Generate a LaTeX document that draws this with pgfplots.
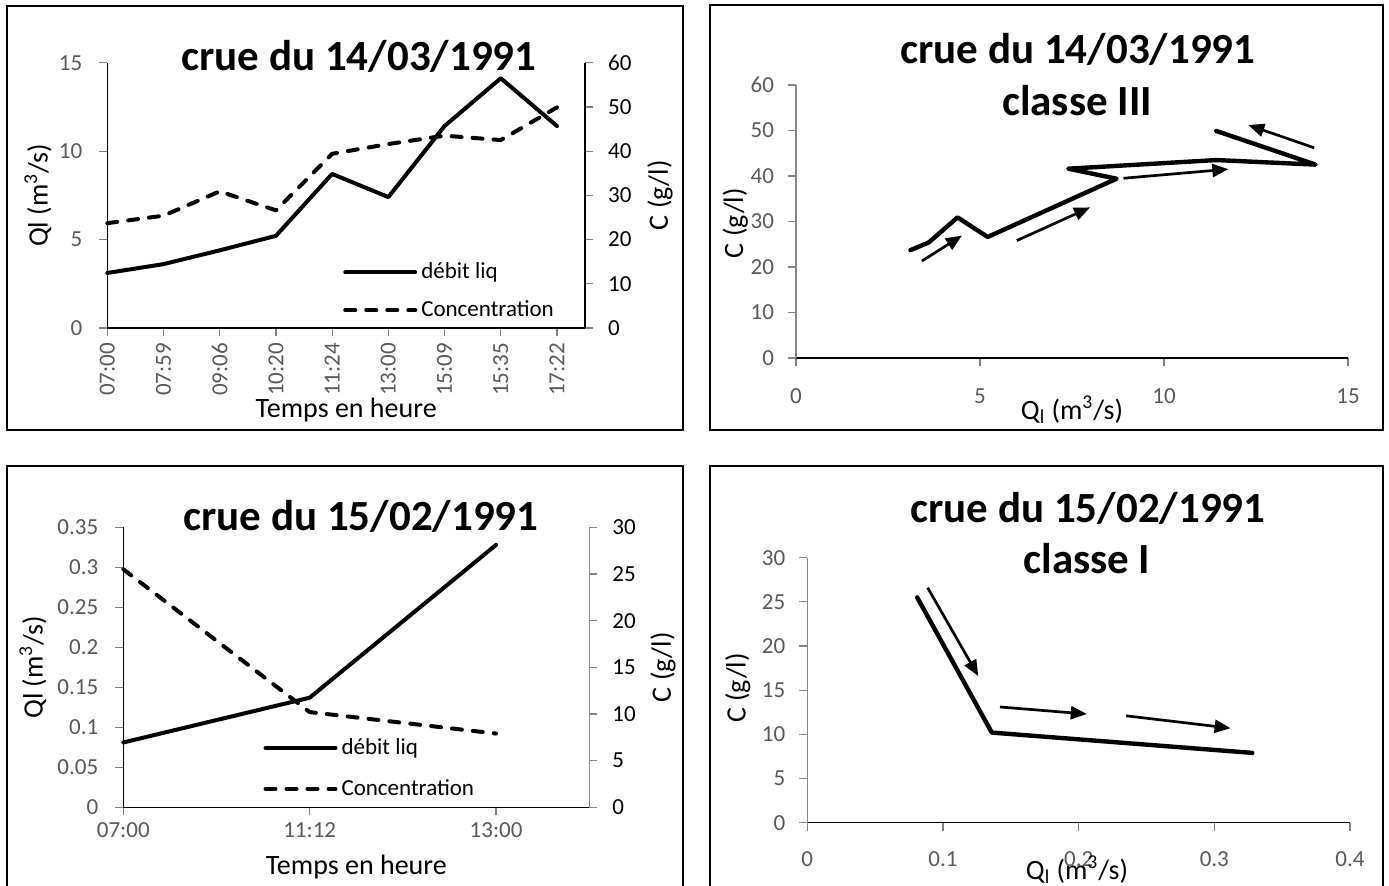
\documentclass[border=0pt]{standalone}
\usepackage{fontspec}
\setmainfont{Carlito}
\usepackage{pgfplots}
\pgfplotsset{compat=1.18}
\usetikzlibrary{arrows.meta}
\definecolor{tickgray}{HTML}{595959}
\definecolor{axgray}{HTML}{868686}

\pgfplotsset{
  base/.style={
    scale only axis, clip=false,
    /pgf/number format/assume math mode=true,
    tick label style={font=\fontsize{11.5}{13}\selectfont},
    label style={font=\fontsize{14}{16}\selectfont},
    tick align=outside, major tick length=4pt,
    axis line style={line width=0.6pt,-},
    every tick/.append style={line width=0.6pt},
  },
  qline/.style={line width=2pt, black, line join=round, line cap=round},
  cline/.style={line width=2pt, black, line join=round, line cap=round, dash pattern=on 5pt off 5.5pt},
  arr/.style={line width=1.35pt, black, -{Triangle[length=8pt,width=6.5pt]}},
  mylegend/.style={
    legend style={draw=none, fill=none, inner sep=0pt, row sep=5.5pt,
      font=\fontsize{11.5}{13}\selectfont, legend cell align=left},
    legend image code/.code={\draw[##1] (0pt,0pt) -- (35pt,0pt);},
  },
}

\begin{document}
\begin{tikzpicture}
\useasboundingbox (0,0) rectangle (694.5pt,443pt);

% ---------------- Panel 1 ----------------
\begin{axis}[base, at={(53.65pt,279pt)}, anchor=south west,
  width=238.9pt, height=132.65pt,
  xmin=0, xmax=8.5, ymin=0, ymax=15,
  axis x line*=bottom, axis y line*=left,
  xtick={0,...,8},
  xticklabels={07:00,07:59,09:06,10:20,11:24,13:00,15:09,15:35,17:22},
  xticklabel style={rotate=90, anchor=east, text=tickgray},
  ytick={0,5,10,15}, yticklabel style={text=tickgray, xshift=-5pt},
  xlabel={Temps en heure}, ylabel={Ql (m\textsuperscript{3}/s)},
  xlabel style={at={(axis description cs:0.5,-0.309)}, anchor=center},
  ylabel style={at={(axis description cs:-0.145,0.5)}, anchor=center},
]
\addplot[qline] coordinates {(0,3.11) (1,3.61) (2,4.39) (3,5.21) (4,8.71) (5,7.40) (6,11.42) (7,14.12) (8,11.42)};
\end{axis}
\begin{axis}[base, mylegend, at={(53.65pt,279pt)}, anchor=south west,
  width=238.9pt, height=132.65pt,
  xmin=0, xmax=8.5, ymin=0, ymax=60,
  axis y line*=right, hide x axis,
  ytick={0,10,...,60}, yticklabel style={text=black, xshift=4pt},
  ylabel={C (g/l)},
  ylabel style={at={(axis description cs:1.157,0.5)}, anchor=center},
  legend style={at={(axis description cs:0.493,0.262)}, anchor=north west},
]
\addlegendimage{qline}
\addlegendentry{débit liq}
\addplot[cline] coordinates {(0,23.7) (1,25.4) (2,30.9) (3,26.6) (4,39.4) (5,41.6) (6,43.5) (7,42.5) (8,49.9)};
\addlegendentry{Concentration}
\end{axis}

% ---------------- Panel 3 ----------------
\begin{axis}[base, at={(61.65pt,39.35pt)}, anchor=south west,
  width=233pt, height=140pt,
  xmin=0, xmax=2.5, ymin=0, ymax=0.35,
  axis x line*=bottom, axis y line*=left,
  xtick={0,1,2}, xticklabels={07:00,11:12,13:00},
  xticklabel style={text=tickgray},
  ytick={0,0.05,0.1,0.15,0.2,0.25,0.3,0.35},
  yticklabels={0,0.05,0.1,0.15,0.2,0.25,0.3,0.35},
  yticklabel style={text=tickgray, xshift=-5pt},
  xlabel={Temps en heure}, ylabel={Ql (m\textsuperscript{3}/s)},
  xlabel style={at={(axis description cs:0.5,-0.213)}, anchor=center},
  ylabel style={at={(axis description cs:-0.194,0.5)}, anchor=center},
]
\addplot[qline] coordinates {(0,0.081) (1,0.137) (2,0.328)};
\end{axis}
\begin{axis}[base, mylegend, at={(61.65pt,39.35pt)}, anchor=south west,
  width=233pt, height=140pt,
  xmin=0, xmax=2.5, ymin=0, ymax=30,
  axis y line*=right, hide x axis,
  axis line style={axgray}, every tick/.append style={axgray},
  ytick={0,5,...,30}, yticklabel style={text=black, xshift=4pt},
  ylabel={C (g/l)},
  ylabel style={at={(axis description cs:1.158,0.5)}, anchor=center},
  legend style={at={(axis description cs:0.30,0.262)}, anchor=north west, row sep=7pt},
]
\addlegendimage{qline}
\addlegendentry{débit liq}
\addplot[cline] coordinates {(0,25.5) (1,10.2) (2,7.9)};
\addlegendentry{Concentration}
\end{axis}

% ---------------- Panel 2 ----------------
\begin{axis}[base, at={(398pt,264pt)}, anchor=south west,
  width=276pt, height=136.5pt,
  xmin=0, xmax=15, ymin=0, ymax=60,
  axis x line*=bottom, axis y line*=left,
  y axis line style={axgray}, ytick style={axgray},
  xtick={0,5,10,15}, ytick={0,10,...,60},
  tick label style={text=tickgray},
  xticklabel style={yshift=-8pt},
  yticklabel style={xshift=-3.5pt},
  xlabel={Q\textsubscript{l} (m\textsuperscript{3}/s)}, ylabel={C (g/l)},
  xlabel style={at={(axis description cs:0.5,-0.19)}, anchor=center},
  ylabel style={at={(axis description cs:-0.11,0.494)}, anchor=center},
]
\addplot[qline, line width=2.2pt] coordinates {(3.11,23.7) (3.61,25.4) (4.39,30.9) (5.21,26.6) (8.71,39.4) (7.40,41.6) (11.42,43.5) (14.12,42.5) (11.42,49.9)};
\addplot[arr] coordinates {(3.42,21.3) (4.51,26.9)};
\addplot[arr] coordinates {(6.0,25.8) (7.99,33.1)};
\addplot[arr] coordinates {(8.9,39.5) (11.75,41.5)};
\addplot[arr] coordinates {(14.08,46.2) (12.29,51.2)};
\end{axis}

% ---------------- Panel 4 ----------------
\begin{axis}[base, at={(403.65pt,31.65pt)}, anchor=south west,
  width=271.35pt, height=132.5pt,
  xmin=0, xmax=0.4, ymin=0, ymax=30,
  axis x line*=bottom, axis y line*=left,
  y axis line style={axgray}, ytick style={axgray},
  xtick={0,0.1,0.2,0.3,0.4}, xticklabels={0,0.1,0.2,0.3,0.4},
  ytick={0,5,...,30},
  tick label style={text=tickgray},
  xticklabel style={yshift=-7pt},
  yticklabel style={xshift=-3.5pt},
  xlabel={Q\textsubscript{l} (m\textsuperscript{3}/s)}, ylabel={C (g/l)},
  xlabel style={at={(axis description cs:0.497,-0.178)}, anchor=center},
  ylabel style={at={(axis description cs:-0.128,0.508)}, anchor=center},
]
\addplot[qline, line width=2.2pt] coordinates {(0.081,25.5) (0.136,10.2) (0.328,7.9)};
\addplot[arr] coordinates {(0.0887,26.6) (0.126,16.6)};
\addplot[arr] coordinates {(0.142,13.1) (0.206,12.3)};
\addplot[arr] coordinates {(0.235,12.1) (0.312,10.7)};
\end{axis}

% ---------------- Titles ----------------
\tikzset{ttl/.style={anchor=base, inner sep=0pt, font={\fontsize{21.5}{26}\selectfont\bfseries}}}
\node[ttl] at (179.5pt,407.5pt) {crue du 14/03/1991};
\node[ttl] at (180.5pt,177.5pt) {crue du 15/02/1991};
\node[ttl] at (539pt,411pt) {crue du 14/03/1991};
\node[ttl] at (538.5pt,385pt) {classe III};
\node[ttl] at (544pt,181.5pt) {crue du 15/02/1991};
\node[ttl] at (543.5pt,156pt) {classe I};

% ---------------- Frames ----------------
\draw[line width=1.3pt] (3.5pt,440pt) rectangle (341.5pt,228pt);
\draw[line width=1.3pt] (355pt,440.5pt) rectangle (691.5pt,228pt);
\draw[line width=1.3pt] (3.5pt,210pt) rectangle (341.5pt,-3pt);
\draw[line width=1.3pt] (355pt,210pt) rectangle (691.5pt,-3pt);
\end{tikzpicture}
\end{document}
